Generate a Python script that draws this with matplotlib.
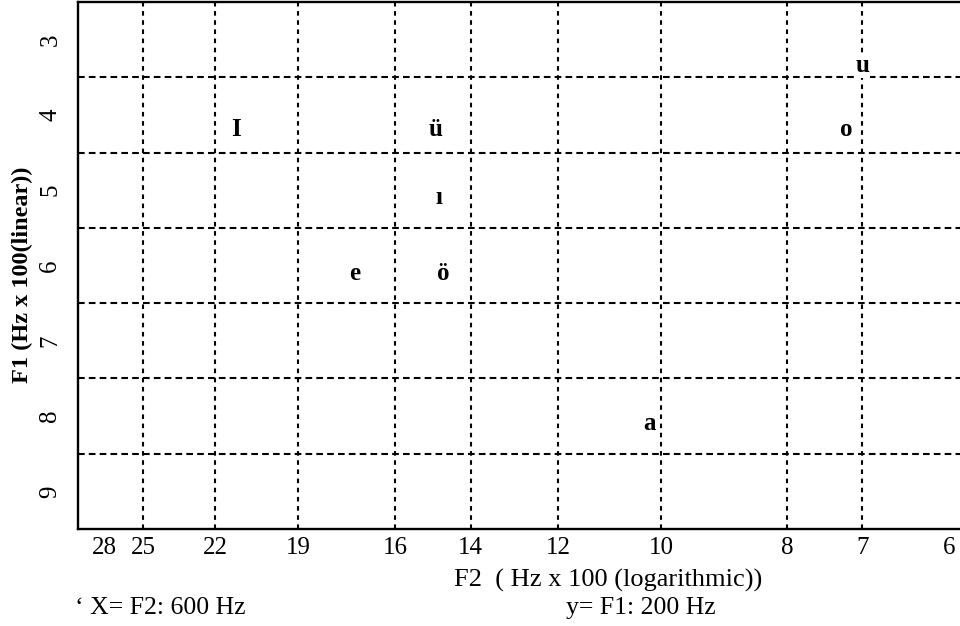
import numpy as np
import matplotlib
matplotlib.use("Agg")
import matplotlib.pyplot as plt
from matplotlib.transforms import ScaledTranslation

plt.rcParams['font.family'] = ['Liberation Serif', 'DejaVu Serif']

# vowel positions: F2 (Hz x 100, log) and F1 (Hz x 100, linear)
vowels = ['I', 'ü', 'ı', 'e', 'ö', 'o', 'u', 'a']
f2_vals = [21.2, 14.9, 14.8, 17.2, 14.7, 7.2, 7.0, 10.2]
f1_vals = [4.2, 4.2, 5.1, 6.1, 6.1, 4.2, 3.35, 8.1]

x_ticks = [28, 25, 22, 19, 16, 14, 12, 10, 8, 7, 6]
x_grid = [25, 22, 19, 16, 14, 12, 10, 8, 7]
y_ticks = [3, 4, 5, 6, 7, 8, 9]
y_grid = [3.5, 4.5, 5.5, 6.5, 7.5, 8.5]

fig = plt.figure(figsize=(9.6, 6.26), dpi=100)
ax = fig.add_axes([78/960, 97/626, 884/960, 527/626])

ax.set_xscale('log')
ax.set_xlim(28.05, 5.87)
ax.set_ylim(9.5, 2.5)

for xv in x_grid:
    ax.axvline(xv, color='black', lw=1.5, ls=(0, (2.2, 2.2)), zorder=1)
for yv in y_grid:
    ax.axhline(yv, color='black', lw=1.5, ls=(0, (3.2, 2.0)), zorder=1)

for v, x, y in zip(vowels, f2_vals, f1_vals):
    ax.text(x, y, v, ha='center', va='center', fontsize=18, fontweight='bold',
            zorder=3, bbox=dict(facecolor='white', edgecolor='none', pad=0.5) if v == 'u' else None)

ax.set_xticks(x_ticks)
ax.set_xticklabels([str(t) for t in x_ticks])
ax.xaxis.set_minor_locator(matplotlib.ticker.NullLocator())
ax.set_yticks(y_ticks)
ax.set_yticklabels([str(t) for t in y_ticks])
ax.tick_params(axis='x', length=0, pad=6, labelsize=18)
ax.tick_params(axis='y', length=0, pad=12, labelsize=18, labelrotation=90)
for lbl in ax.get_yticklabels():
    lbl.set_verticalalignment('center')

# the "28" label sits a little inside the left edge
first = ax.get_xticklabels()[0]
first.set_transform(first.get_transform() + ScaledTranslation(0.25, 0, fig.dpi_scale_trans))

for side in ['left', 'bottom', 'top', 'right']:
    ax.spines[side].set_linewidth(1.7)

ax.set_ylabel('F1 (Hz x 100(linear))', fontsize=17.5, fontweight='bold')
ax.yaxis.set_label_coords(-0.051, 0.482)

fig.text(608/960, 1 - 580/626, 'F2  ( Hz x 100 (logarithmic))', ha='center', va='center', fontsize=19)
fig.text(641/960, 1 - 608/626, 'y= F1: 200 Hz', ha='center', va='center', fontsize=18.5)
fig.text(75/960, 1 - 608/626, '\u2018 X= F2: 600 Hz', ha='left', va='center', fontsize=18.5)

fig.savefig('out.png', dpi=100)
